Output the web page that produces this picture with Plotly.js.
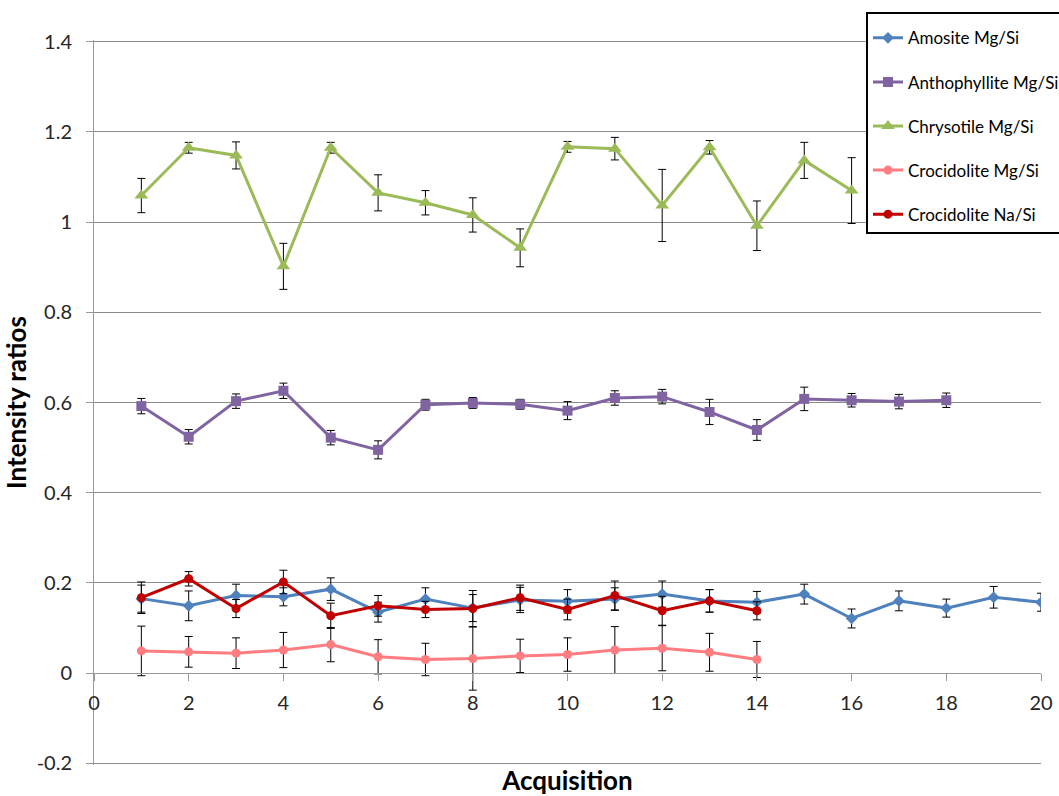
<!DOCTYPE html>
<html>
<head>
<meta charset="utf-8">
<script src="https://cdn.plot.ly/plotly-3.0.1.min.js"></script>
<style>html,body{margin:0;padding:0;background:#fff;}#chart{width:1059px;height:796px;}</style>
</head>
<body>
<div id="chart"></div>
<script>
const acquisition = [1,2,3,4,5,6,7,8,9,10,11,12,13,14,15,16,17,18,19,20];

const amositeMg = [0.165,0.149,0.172,0.169,0.186,0.135,0.164,0.144,0.162,0.159,0.164,0.175,0.160,0.157,0.175,0.121,0.160,0.144,0.168,0.157];
const amositeErr = [0.030,0.033,0.025,0.020,0.025,0.022,0.025,0.030,0.028,0.026,0.025,0.029,0.025,0.024,0.022,0.021,0.022,0.020,0.024,0.020];

const anthophylliteMg = [0.592,0.524,0.603,0.626,0.522,0.495,0.595,0.599,0.596,0.582,0.610,0.613,0.579,0.539,0.608,0.605,0.602,0.605];
const anthophylliteErr = [0.017,0.016,0.016,0.017,0.016,0.020,0.012,0.012,0.011,0.020,0.016,0.016,0.028,0.023,0.026,0.015,0.016,0.016];

const chrysotileMg = [1.059,1.165,1.148,0.902,1.165,1.065,1.043,1.016,0.943,1.167,1.163,1.037,1.166,0.992,1.137,1.070];
const chrysotileErr = [0.038,0.012,0.030,0.051,0.012,0.040,0.027,0.038,0.042,0.012,0.025,0.080,0.015,0.055,0.040,0.073];

const crocidoliteMg = [0.049,0.047,0.044,0.051,0.063,0.036,0.030,0.032,0.038,0.041,0.051,0.055,0.046,0.030];
const crocidoliteMgErr = [0.055,0.034,0.034,0.039,0.038,0.038,0.036,0.070,0.037,0.037,0.052,0.050,0.042,0.040];

const crocidoliteNa = [0.167,0.209,0.143,0.202,0.127,0.149,0.141,0.143,0.167,0.141,0.172,0.138,0.160,0.138];
const crocidoliteNaErr = [0.035,0.016,0.020,0.026,0.028,0.023,0.018,0.040,0.028,0.023,0.032,0.032,0.025,0.020];

const seriesNames = ['Amosite Mg/Si','Anthophyllite Mg/Si','Chrysotile Mg/Si','Crocidolite Mg/Si','Crocidolite Na/Si'];
const yTickVals = [-0.2,0,0.2,0.4,0.6,0.8,1,1.2,1.4];
const yTickText = ['-0.2','0','0.2','0.4','0.6','0.8','1','1.2','1.4'];

function mk(name, ys, errs, color, symbol, size, grp) {
  return {
    type: 'scatter', mode: 'lines+markers', name: name,
    legendgroup: grp,
    x: acquisition.slice(0, ys.length), y: ys,
    line: {color: color, width: 3},
    marker: {color: color, symbol: symbol, size: size},
    error_y: {type: 'data', array: errs, visible: true, color: '#000', thickness: 1, width: 4}
  };
}

const data = [
  mk(seriesNames[0], amositeMg, amositeErr, '#4F81BD', 'diamond', 9, 'a'),
  mk(seriesNames[1], anthophylliteMg, anthophylliteErr, '#8064A2', 'square', 10, 'b'),
  mk(seriesNames[2], chrysotileMg, chrysotileErr, '#9BBB59', 'triangle-up', 12, 'c'),
  mk(seriesNames[3], crocidoliteMg, crocidoliteMgErr, '#FF7C80', 'circle', 9, 'd'),
  mk(seriesNames[4], crocidoliteNa, crocidoliteNaErr, '#C00000', 'circle', 9, 'e')
];

const yMin = -0.204, yMax = 1.404;

const layout = {
  width: 1059, height: 796,
  paper_bgcolor: '#fff', plot_bgcolor: '#fff',
  margin: {l: 94, r: 18, t: 40, b: 31, autoexpand: false},
  font: {family: 'Lato, sans-serif', color: '#262626'},
  showlegend: true,
  legend: {
    x: 0.8152, xanchor: 'left', y: 1.039, yanchor: 'top',
    bgcolor: '#fff', bordercolor: '#000', borderwidth: 2,
    font: {family: 'Lato, sans-serif', size: 17, color: '#000'},
    title: {text: ' ', font: {size: 5}},
    traceorder: 'grouped', tracegroupgap: 19
  },
  xaxis: {
    range: [0, 20], dtick: 2, tick0: 0,
    anchor: 'free', position: (0 - yMin) / (yMax - yMin),
    showgrid: false, zeroline: false,
    showline: true, linecolor: '#999', linewidth: 1,
    ticks: 'outside', ticklen: 7, tickcolor: '#999',
    ticklabelstandoff: 5,
    tickfont: {family: 'Lato, sans-serif', size: 20, color: '#262626'},
    title: {text: 'Acquisition', standoff: 66, font: {family: 'Lato, sans-serif', size: 26, color: '#000', weight: 'bold'}}
  },
  yaxis: {
    range: [yMin, yMax], tickvals: yTickVals, ticktext: yTickText,
    showgrid: true, gridcolor: '#8c8c8c', gridwidth: 1, zeroline: false,
    showline: true, linecolor: '#999', linewidth: 1,
    ticks: 'outside', ticklen: 7, tickcolor: '#999',
    ticklabelstandoff: 10,
    tickfont: {family: 'Lato, sans-serif', size: 20, color: '#262626'},
    title: {text: 'Intensity ratios', standoff: 4, font: {family: 'Lato, sans-serif', size: 26, color: '#000', weight: 'bold'}}
  }
};

Plotly.newPlot('chart', data, layout, {displayModeBar: false, staticPlot: true});
</script>
</body>
</html>
